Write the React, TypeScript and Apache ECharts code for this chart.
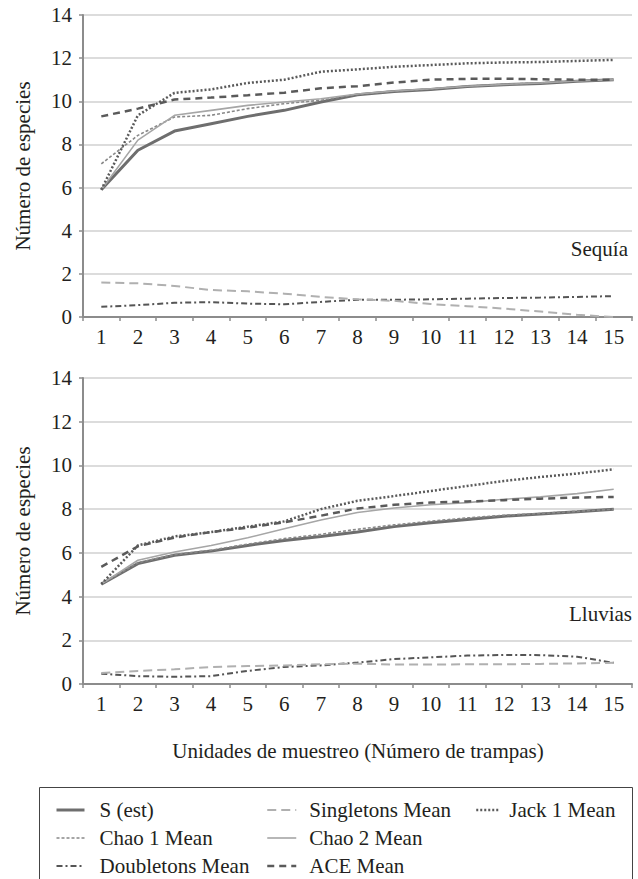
import React, { useEffect, useRef } from "react";
import * as echarts from "echarts";

const categories = ["1", "2", "3", "4", "5", "6", "7", "8", "9", "10", "11", "12", "13", "14", "15"];

const seriesNames = ["S (est)", "Chao 1 Mean", "Doubletons Mean", "Singletons Mean", "Chao 2 Mean", "ACE Mean", "Jack 1 Mean"];

// Sequía (top panel)
const sequiaSest = [5.9, 7.73, 8.62, 8.96, 9.3, 9.58, 9.97, 10.3, 10.45, 10.55, 10.68, 10.77, 10.83, 10.93, 11.0];
const sequiaChao1 = [7.1, 8.42, 9.27, 9.35, 9.66, 9.89, 10.05, 10.32, 10.47, 10.57, 10.7, 10.79, 10.85, 10.95, 11.0];
const sequiaDoubletons = [0.47, 0.55, 0.66, 0.69, 0.62, 0.59, 0.7, 0.8, 0.8, 0.82, 0.85, 0.88, 0.9, 0.93, 0.97];
const sequiaSingletons = [1.6, 1.56, 1.44, 1.25, 1.19, 1.08, 0.93, 0.82, 0.75, 0.6, 0.5, 0.39, 0.25, 0.1, 0.0];
const sequiaChao2 = [5.9, 8.2, 9.35, 9.58, 9.81, 9.97, 10.12, 10.34, 10.48, 10.58, 10.7, 10.78, 10.85, 10.94, 11.0];
const sequiaAce = [9.3, 9.66, 10.08, 10.17, 10.28, 10.4, 10.6, 10.7, 10.87, 11.0, 11.04, 11.05, 11.02, 11.0, 11.0];
const sequiaJack1 = [5.9, 9.35, 10.39, 10.55, 10.85, 11.0, 11.37, 11.48, 11.6, 11.68, 11.76, 11.8, 11.82, 11.87, 11.92];

// Lluvias (bottom panel)
const lluviasSest = [4.57, 5.51, 5.89, 6.08, 6.34, 6.57, 6.75, 6.95, 7.2, 7.38, 7.53, 7.68, 7.78, 7.88, 8.0];
const lluviasChao1 = [4.57, 5.55, 5.92, 6.12, 6.4, 6.65, 6.85, 7.08, 7.28, 7.45, 7.6, 7.72, 7.8, 7.9, 8.0];
const lluviasDoubletons = [0.47, 0.36, 0.33, 0.36, 0.6, 0.78, 0.85, 0.98, 1.14, 1.22, 1.3, 1.33, 1.32, 1.25, 0.97];
const lluviasSingletons = [0.5, 0.6, 0.67, 0.78, 0.82, 0.85, 0.9, 0.93, 0.89, 0.89, 0.9, 0.9, 0.92, 0.94, 0.97];
const lluviasChao2 = [4.57, 5.66, 6.04, 6.34, 6.69, 7.1, 7.5, 7.85, 8.05, 8.2, 8.3, 8.45, 8.56, 8.71, 8.91];
const lluviasAce = [5.36, 6.3, 6.7, 6.95, 7.15, 7.4, 7.7, 8.03, 8.2, 8.3, 8.35, 8.41, 8.48, 8.53, 8.56];
const lluviasJack1 = [4.57, 6.34, 6.75, 6.95, 7.2, 7.44, 8.0, 8.38, 8.6, 8.83, 9.06, 9.29, 9.47, 9.63, 9.82];

const yTicks = { min: 0, max: 14, interval: 2 };

const FONT = "Liberation Serif";
const FS = 21;
const TEXT = "#231f20";

const styles: Record<string, any> = {
  "S (est)": { color: "#6e6e6e", width: 3, type: "solid" },
  "Chao 1 Mean": { color: "#888888", width: 1.6, type: [3, 2] },
  "Doubletons Mean": { color: "#555555", width: 2, type: [6, 3, 2, 3] },
  "Singletons Mean": { color: "#b0b0b0", width: 2, type: [9, 5] },
  "Chao 2 Mean": { color: "#a6a6a6", width: 1.6, type: "solid" },
  "ACE Mean": { color: "#5a5a5a", width: 2.5, type: [7, 5] },
  "Jack 1 Mean": { color: "#5a5a5a", width: 2.5, type: [2, 2] },
};

const panels = [
  { label: "Sequía", data: [sequiaSest, sequiaChao1, sequiaDoubletons, sequiaSingletons, sequiaChao2, sequiaAce, sequiaJack1] },
  { label: "Lluvias", data: [lluviasSest, lluviasChao1, lluviasDoubletons, lluviasSingletons, lluviasChao2, lluviasAce, lluviasJack1] },
];

export default function App() {
  const ref = useRef<HTMLDivElement>(null);
  useEffect(() => {
    if (!ref.current) return;
    const chart = echarts.init(ref.current, null, { renderer: "svg" });

    const grids = [
      { left: 83, top: 15, width: 549, height: 302 },
      { left: 83, top: 378, width: 549, height: 306 },
    ];

    const xAxes = grids.map((_, i) => ({
      type: "category",
      gridIndex: i,
      data: categories,
      boundaryGap: true,
      axisLine: { show: true, lineStyle: { color: "#8c8c8c", width: 2 } },
      axisTick: { show: true, length: 4, lineStyle: { color: "#8c8c8c", width: 1.5 } },
      axisLabel: { fontFamily: FONT, fontSize: FS, color: TEXT, margin: 9 },
      splitLine: { show: false },
    }));

    const yAxes = grids.map((_, i) => ({
      type: "value",
      gridIndex: i,
      min: yTicks.min,
      max: yTicks.max,
      interval: yTicks.interval,
      name: "Número de especies",
      nameLocation: "middle",
      nameGap: 50,
      nameRotate: 90,
      nameTextStyle: { fontFamily: FONT, fontSize: FS, color: TEXT },
      axisLine: { show: true, lineStyle: { color: "#8c8c8c", width: 2 } },
      axisTick: { show: true, length: 4, lineStyle: { color: "#8c8c8c", width: 1.5 } },
      axisLabel: { fontFamily: FONT, fontSize: FS, color: TEXT, margin: 11 },
      splitLine: { show: true, lineStyle: { color: "#dcdcdc", width: 2 } },
    }));

    const series: any[] = [];
    panels.forEach((p, gi) => {
      seriesNames.forEach((name, si) => {
        const st = styles[name];
        series.push({
          type: "line",
          name,
          xAxisIndex: gi,
          yAxisIndex: gi,
          data: p.data[si],
          symbol: "none",
          showSymbol: false,
          lineStyle: { color: st.color, width: st.width, type: st.type },
          itemStyle: { color: st.color },
          z: name === "S (est)" ? 3 : 4,
        });
      });
    });

    const legendCols = [
      { left: 55, width: 28, pad: 10, names: ["S (est)", "Chao 1 Mean", "Doubletons Mean"] },
      { left: 266, width: 29, pad: 8, names: ["Singletons Mean", "Chao 2 Mean", "ACE Mean"] },
      { left: 475, width: 23, pad: 5, names: ["Jack 1 Mean"] },
    ];
    const legends = legendCols.map((c) => ({
      left: c.left,
      top: 799,
      orient: "vertical",
      itemWidth: c.width,
      itemHeight: 10,
      itemGap: 6,
      padding: 0,
      selectedMode: false,
      textStyle: { fontFamily: FONT, fontSize: FS, color: TEXT, lineHeight: 22, padding: [0, 0, 0, c.pad] },
      data: c.names.map((n) => ({
        name: n,
        itemStyle: { opacity: 0 },
        lineStyle: { color: styles[n].color, width: styles[n].width, type: styles[n].type },
      })),
    }));

    chart.setOption({
      animation: false,
      backgroundColor: "#ffffff",
      grid: grids,
      xAxis: xAxes,
      yAxis: yAxes,
      legend: legends,
      series,
      graphic: [
        {
          type: "text",
          right: 10,
          top: 238,
          style: { text: "Sequía", fontFamily: FONT, fontSize: FS, fill: TEXT },
        },
        {
          type: "text",
          right: 6,
          top: 603,
          style: { text: "Lluvias", fontFamily: FONT, fontSize: FS, fill: TEXT },
        },
        {
          type: "text",
          x: 358,
          y: 751,
          style: {
            text: "Unidades de muestreo (Número de trampas)",
            fontFamily: FONT,
            fontSize: FS,
            fill: TEXT,
            align: "center",
            verticalAlign: "middle",
          },
        },
        {
          type: "rect",
          shape: { x: 39.5, y: 787.5, width: 593, height: 110 },
          style: { fill: "none", stroke: "#444", lineWidth: 1 },
        },
      ],
    });
    return () => chart.dispose();
  }, []);
  return <div ref={ref} style={{ position: "absolute", left: 0, top: 0, width: 638, height: 879 }} />;
}
